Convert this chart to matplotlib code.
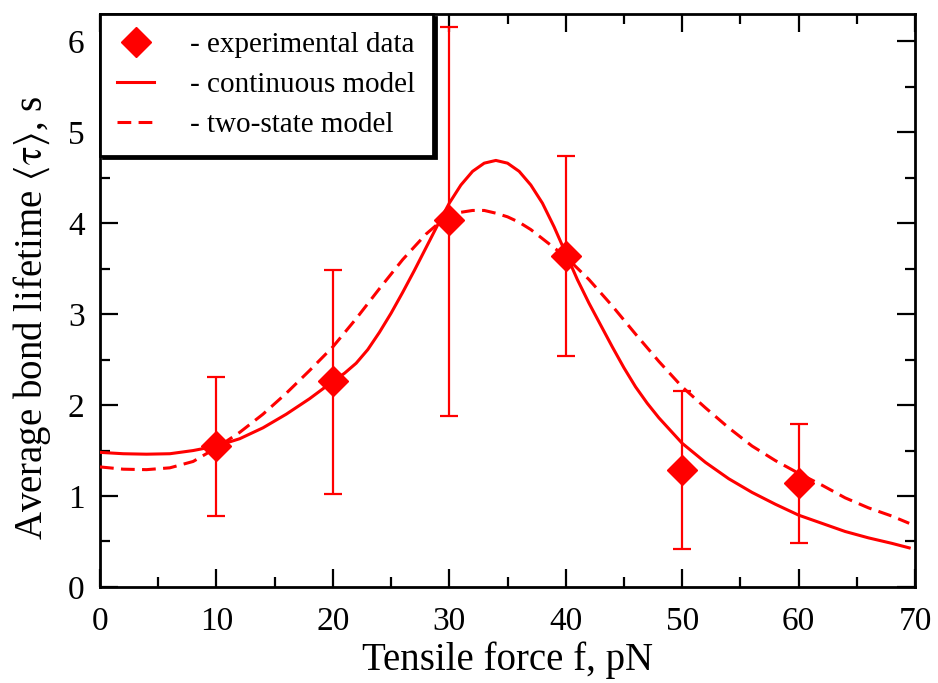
import matplotlib
matplotlib.use("Agg")
import matplotlib.pyplot as plt
from matplotlib.ticker import MultipleLocator

# experimental data
force_exp = [10, 20, 30, 40, 50, 60]
tau_exp = [1.55, 2.26, 4.03, 3.64, 1.29, 1.14]
err_upper = [2.31, 3.49, 6.16, 4.74, 2.16, 1.79]
err_lower = [0.78, 1.02, 1.88, 2.54, 0.42, 0.48]

# continuous model
force_cont = [0, 2, 4, 6, 8, 10, 12, 14, 16, 18, 20, 21, 22, 23, 24, 25, 26, 27, 28, 29,
              30, 31, 32, 33, 34, 35, 36, 37, 38, 39, 40, 41, 42, 43, 44, 45, 46, 47, 48, 50,
              52, 54, 56, 58, 60, 62, 64, 66, 68, 69.5]
tau_cont = [1.48, 1.465, 1.46, 1.465, 1.50, 1.55, 1.63, 1.75, 1.90, 2.07, 2.26, 2.35, 2.46,
            2.61, 2.80, 3.01, 3.24, 3.48, 3.73, 3.98, 4.22, 4.42, 4.57, 4.66, 4.69, 4.66,
            4.57, 4.42, 4.22, 3.96, 3.67, 3.38, 3.12, 2.88, 2.64, 2.41, 2.20, 2.02, 1.86,
            1.58, 1.37, 1.19, 1.04, 0.91, 0.79, 0.70, 0.61, 0.54, 0.48, 0.43]

# two-state model
force_two = [0, 2, 4, 6, 8, 10, 12, 14, 16, 18, 20, 22, 24, 26, 28, 29, 30, 31, 32, 33, 34,
             35, 36, 37, 38, 39, 40, 42, 44, 46, 48, 50, 52, 54, 56, 58, 60, 62, 64, 66, 68, 69.5]
tau_two = [1.32, 1.295, 1.29, 1.31, 1.38, 1.53, 1.70, 1.90, 2.13, 2.38, 2.64, 2.95, 3.28,
           3.60, 3.88, 3.99, 4.07, 4.12, 4.14, 4.14, 4.11, 4.07, 4.01, 3.93, 3.83, 3.73,
           3.63, 3.38, 3.09, 2.78, 2.48, 2.20, 1.97, 1.75, 1.55, 1.39, 1.25, 1.12, 0.98,
           0.87, 0.78, 0.70]

x_ticks = [0, 10, 20, 30, 40, 50, 60, 70]
y_ticks = [0, 1, 2, 3, 4, 5, 6]

plt.rcParams['font.family'] = ['Liberation Serif', 'DejaVu Serif']
plt.rcParams['mathtext.fontset'] = 'stix'

RED = '#ff0000'
fig = plt.figure(figsize=(9.38, 6.83), dpi=100)
ax = fig.add_axes([0.1066, 0.1406, 0.8689, 0.8389])

yerr = [[t - lo for t, lo in zip(tau_exp, err_lower)],
        [hi - t for t, hi in zip(tau_exp, err_upper)]]

ax.plot(force_cont, tau_cont, color=RED, lw=2.2, label='- continuous model', zorder=3,
        solid_joinstyle='round')
ax.plot(force_two, tau_two, color=RED, lw=2.2, dashes=(4.5, 2.4), label='- two-state model',
        zorder=3)
ax.errorbar(force_exp, tau_exp, yerr=yerr, fmt='none', ecolor=RED, elinewidth=1.6,
            capsize=6.8, capthick=1.6, zorder=4)
ax.plot(force_exp, tau_exp, 'D', color=RED, ms=15, ls='none', label='- experimental data',
        zorder=5)

ax.set_xlim(0, 70)
ax.set_ylim(0, 6.3)
ax.set_xticks(x_ticks)
ax.set_yticks(y_ticks)
ax.xaxis.set_minor_locator(MultipleLocator(5))
ax.yaxis.set_minor_locator(MultipleLocator(0.5))
ax.tick_params(which='both', direction='in', top=True, right=True, width=1.6, labelsize=24)
ax.tick_params(axis='x', which='major', length=13, pad=14)
ax.tick_params(axis='y', which='major', length=13, pad=11)
ax.tick_params(which='minor', length=7)
for sp in ax.spines.values():
    sp.set_linewidth(2)

ax.set_xlabel('Tensile force f, pN', fontsize=28, labelpad=3)
ax.set_ylabel(r'Average bond lifetime $\langle\mathrm{τ}\rangle$, s', fontsize=28)
ax.yaxis.set_label_coords(-0.058, 0.47)

handles, labels = ax.get_legend_handles_labels()
order = [2, 0, 1]
leg = ax.legend([handles[i] for i in order], [labels[i] for i in order],
                loc='upper left', bbox_to_anchor=(0, 1), borderaxespad=0,
                fontsize=21, frameon=True, fancybox=False, edgecolor='black',
                handlelength=1.25, handletextpad=1.25, labelspacing=0.47,
                borderpad=0.6, framealpha=1,
                shadow={'color': 'black', 'alpha': 1.0})
leg.get_frame().set_linewidth(2)

fig.savefig('out.png', dpi=100)
